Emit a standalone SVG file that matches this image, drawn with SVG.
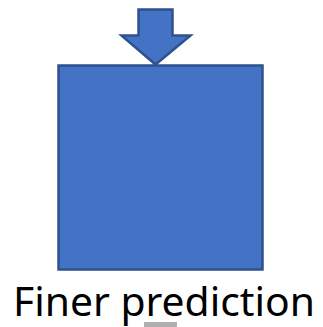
<svg xmlns="http://www.w3.org/2000/svg" width="323" height="327" viewBox="0 0 323 327">
<style>
.shape{fill:#4472C4;stroke:#2F528F;stroke-width:2.5}
.label{font-family:"Noto Sans","Open Sans",sans-serif;font-size:40px;fill:#000}
</style>
<rect width="323" height="327" fill="#fff"/>
<g id="box"><rect class="shape" x="58.5" y="65.5" width="204" height="204"/></g>
<g id="connectors">
<polygon class="shape" points="138.5,9.5 172.5,9.5 172.5,35.5 190.5,35.5 155.5,64.5 121.5,35.5 138.5,35.5"/>
</g>
<g id="caption">
<text class="label" x="13" y="315.5" textLength="302" lengthAdjust="spacingAndGlyphs">Finer prediction</text>
<rect x="144" y="322" width="33" height="5" fill="#b0b0b0"/>
</g>
</svg>
